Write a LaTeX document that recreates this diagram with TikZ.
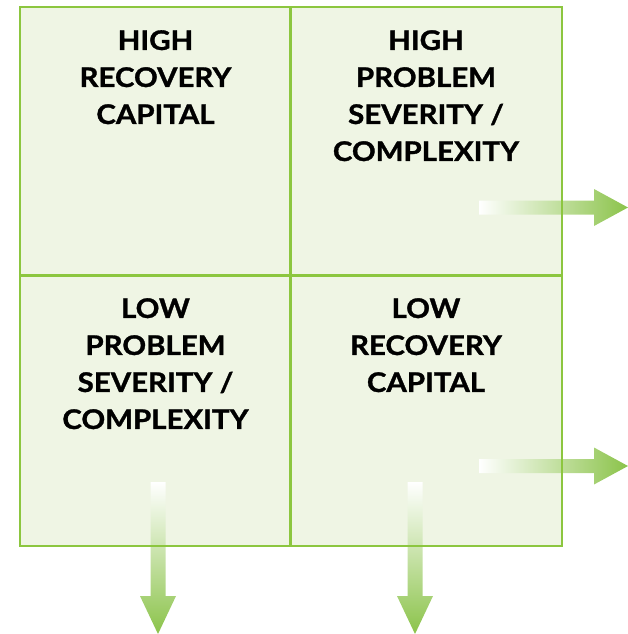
\documentclass[tikz,border=0pt]{standalone}
\usepackage{fontspec}
\setmainfont{Lato}[BoldFeatures={FakeStretch=1.09,FakeBold=1.2}]
\definecolor{gline}{HTML}{8CC63F}
\definecolor{gfill}{HTML}{EFF5E4}
\definecolor{garrow}{HTML}{8BC34A}
\tikzset{
  quadlabel/.style={font=\fontsize{27}{37}\selectfont\bfseries, align=center, anchor=north, inner sep=0pt, text=black},
  gridline/.style={draw=gline, line width=2.6pt},
  rarrow/.style={left color=white, right color=garrow},
  darrow/.style={top color=white, bottom color=garrow},
}
\begin{document}
\begin{tikzpicture}[x=1pt,y=-1pt]
\useasboundingbox (0,0) rectangle (628,634);
% background fill
\fill[gfill] (20,7) rectangle (562,546);
% arrows (under frame lines)
\shade[rarrow] (479,200.5) -- (594,200.5) -- (594,189) -- (628,207.5) -- (594,226) -- (594,214.5) -- (479,214.5) -- cycle;
\shade[rarrow] (479,459) -- (594,459) -- (594,447.5) -- (628,466) -- (594,484.5) -- (594,473) -- (479,473) -- cycle;
\shade[darrow] (150.5,482) -- (165.5,482) -- (165.5,596) -- (176,596) -- (158,634) -- (140,596) -- (150.5,596) -- cycle;
\shade[darrow] (407.5,482) -- (422.5,482) -- (422.5,596) -- (433,596) -- (415,634) -- (397,596) -- (407.5,596) -- cycle;
% frame and dividers
\draw[gridline] (20,7) rectangle (562,546);
\draw[gridline] (290.5,7) -- (290.5,546);
\draw[gridline] (20,275.5) -- (562,275.5);
% labels
\node[quadlabel] (tl) at (155.5,30) {HIGH\\RECOVERY\\CAPITAL};
\node[quadlabel] (tr) at (426,30) {HIGH\\PROBLEM\\SEVERITY /\\COMPLEXITY};
\node[quadlabel] (bl) at (155.5,298) {LOW\\PROBLEM\\SEVERITY /\\COMPLEXITY};
\node[quadlabel] (br) at (426,298) {LOW\\RECOVERY\\CAPITAL};
\end{tikzpicture}
\end{document}
